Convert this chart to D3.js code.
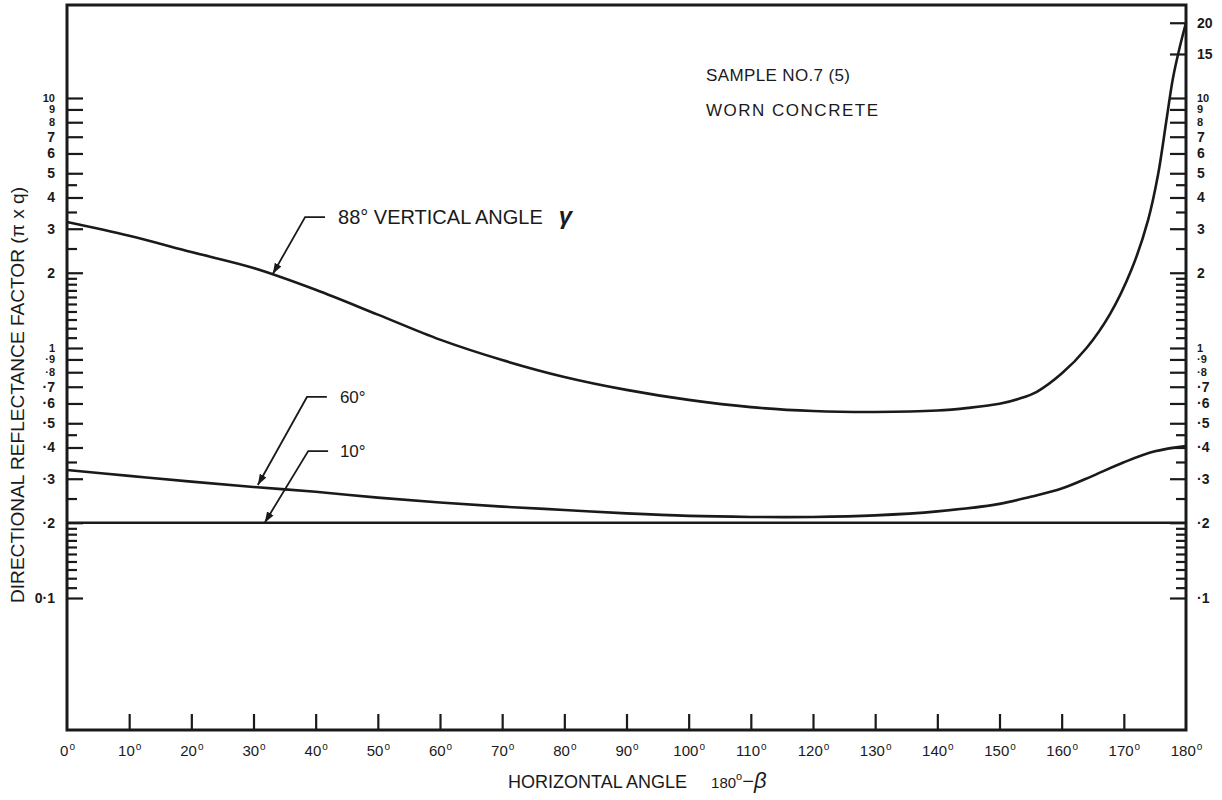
<!DOCTYPE html>
<html>
<head>
<meta charset="utf-8">
<script src="https://cdn.jsdelivr.net/npm/d3@7"></script>
<style>
  body { margin:0; background:#fff; }
  svg { display:block; font-family:"Liberation Sans", Arial, sans-serif; }
  .tick line { stroke:#1a1a1a; stroke-width:2.2; }
  .ytick text { fill:#1a1a1a; font-weight:bold; }
  .xtick text { fill:#1a1a1a; font-weight:normal; }
  .curve { fill:none; stroke:#1a1a1a; stroke-width:2.6; }
  .leader { fill:none; stroke:#1a1a1a; stroke-width:1.8; }
  .lbl { fill:#1a1a1a; }
</style>
</head>
<body>
<div id="chart"></div>
<script>
// horizontal angle (deg) and reflectance factor for each vertical angle
var angles88 = [0,10,20,30,40,50,60,70,80,90,100,110,120,130,140,145,150,153,156,160,164,167.8,171.2,173.9,175.5,176.9,177.9,179,180];
var values88 = [3.19,2.81,2.42,2.09,1.71,1.36,1.08,0.895,0.766,0.68,0.62,0.58,0.56,0.555,0.562,0.576,0.598,0.625,0.668,0.79,1.0,1.37,2.05,3.25,4.93,8.3,12.0,16.0,20.0];

var angles60 = [0,10,20,30,40,50,60,70,80,90,100,110,120,130,140,150,155,160,165,170,175,180];
var values60 = [0.325,0.308,0.292,0.278,0.266,0.252,0.241,0.232,0.225,0.218,0.213,0.211,0.211,0.214,0.222,0.238,0.254,0.274,0.308,0.349,0.386,0.405];

var angles10 = [0,180];
var values10 = [0.2,0.2];

var xTicks = d3.range(0,181,10);

var leftTickValues = [10,9,8,7,6,5,4,3,2,1,0.9,0.8,0.7,0.6,0.5,0.4,0.3,0.2,0.1];
var leftTickLabels = ["10","9","8","7","6","5","4","3","2","1","·9","·8","·7","·6","·5","·4","·3","·2","0·1"];
var rightTickValues = [20,15,10,9,8,7,6,5,4,3,2,1,0.9,0.8,0.7,0.6,0.5,0.4,0.3,0.2,0.1];
var rightTickLabels = ["20","15","10","9","8","7","6","5","4","3","2","1","·9","·8","·7","·6","·5","·4","·3","·2","·1"];
var minorTicks = [4.5,3.5,2.5,1.9,1.8,1.7,1.6,1.5,1.4,1.3,1.2,1.1,0.45,0.35,0.25,0.19,0.18,0.17,0.16,0.15,0.14,0.13,0.12,0.11];
var crowded = [10,9,8,1,0.9,0.8];

// annotations: arrow tip (angle,value), elbow (angle,value), end of horizontal, label angle
var notes = [
  {text:"88° VERTICAL ANGLE", tip:[33.1,1.977], elbow:[38.3,3.34], end:41.5, at:43.6, size:20, greek:"γ"},
  {text:"60°", tip:[30.7,0.283], elbow:[38.6,0.637], end:41.8, at:43.9, size:17},
  {text:"10°", tip:[31.8,0.2], elbow:[38.8,0.387], end:42.0, at:43.9, size:17}
];

var W = 1222, H = 800;
var m = {t:5, r:36, b:70, l:67};
var svg = d3.select('#chart').append('svg').attr('width',W).attr('height',H);

var x = d3.scaleLinear().domain([0,180]).range([m.l, W-m.r]);
var y = d3.scaleLog().domain([0.02965,23.55]).range([H-m.b, m.t]);

var fmtL = function(d){ return leftTickLabels[leftTickValues.indexOf(d)]; };
var fmtR = function(d){ return rightTickLabels[rightTickValues.indexOf(d)]; };

// minor ticks, both sides
svg.append('g').attr('transform','translate('+m.l+',0)')
  .call(d3.axisLeft(y).tickValues(minorTicks).tickSize(-10).tickFormat(''))
  .call(function(g){ g.select('.domain').remove(); });
svg.append('g').attr('transform','translate('+(W-m.r)+',0)')
  .call(d3.axisRight(y).tickValues(minorTicks).tickSize(-10).tickFormat(''))
  .call(function(g){ g.select('.domain').remove(); });

// labelled ticks
svg.append('g').attr('class','ytick').attr('transform','translate('+m.l+',0)')
  .call(d3.axisLeft(y).tickValues(leftTickValues).tickSize(-16).tickPadding(12).tickFormat(fmtL))
  .call(function(g){
    g.select('.domain').remove();
    g.selectAll('text').attr('font-size',function(d){ return crowded.indexOf(d)>=0?11:14; });
  });
svg.append('g').attr('class','ytick').attr('transform','translate('+(W-m.r)+',0)')
  .call(d3.axisRight(y).tickValues(rightTickValues).tickSize(-16).tickPadding(11).tickFormat(fmtR))
  .call(function(g){
    g.select('.domain').remove();
    g.selectAll('text').attr('font-size',function(d){ return crowded.indexOf(d)>=0?11:14; });
  });

svg.append('g').attr('class','xtick').attr('transform','translate(0,'+(H-m.b)+')')
  .call(d3.axisBottom(x).tickValues(xTicks).tickSize(-16).tickPadding(15).tickFormat(function(d){ return d; }))
  .call(function(g){
    g.select('.domain').remove();
    g.selectAll('.tick line').filter(function(d){ return d===0||d===180; }).remove();
    g.selectAll('text').attr('font-size',15)
      .append('tspan').attr('font-size',10).attr('dy','-0.6em').attr('dx','1').text('o');
  });

// frame
svg.append('rect')
  .attr('x',x(0)).attr('y',y(23.55))
  .attr('width',x(180)-x(0)).attr('height',y(0.02965)-y(23.55))
  .attr('fill','none').attr('stroke','#1a1a1a').attr('stroke-width',3);

// curves
var line = d3.line()
  .x(function(d){ return x(d[0]); })
  .y(function(d){ return y(d[1]); })
  .curve(d3.curveCatmullRom.alpha(0.5));

[[angles88,values88],[angles60,values60],[angles10,values10]].forEach(function(s){
  svg.append('path').attr('class','curve')
    .datum(s[0].map(function(a,i){ return [a,s[1][i]]; }))
    .attr('d',line);
});

// arrowheads
svg.append('defs').append('marker')
  .attr('id','arr').attr('viewBox','0 0 10 10').attr('refX',10).attr('refY',5)
  .attr('markerWidth',6).attr('markerHeight',6).attr('orient','auto')
  .append('path').attr('d','M0,1.5 L10,5 L0,8.5 Z').attr('fill','#1a1a1a');

notes.forEach(function(n){
  var ey = y(n.elbow[1]);
  svg.append('path').attr('class','leader')
    .attr('d','M'+x(n.end)+','+ey+' L'+x(n.elbow[0])+','+ey+' L'+x(n.tip[0])+','+y(n.tip[1]))
    .attr('marker-end','url(#arr)');
  var t = svg.append('text').attr('class','lbl')
    .attr('x',x(n.at)).attr('y',ey).attr('dy','0.36em')
    .attr('font-size',n.size).text(n.text);
  if(n.greek){
    t.append('tspan').attr('dx',16).attr('font-size',24).attr('font-style','italic').attr('font-weight','bold').text(n.greek);
  }
});

// title
svg.append('text').attr('class','lbl').attr('x',706).attr('y',81).attr('font-size',17).attr('textLength',144).text('SAMPLE NO.7  (5)');
svg.append('text').attr('class','lbl').attr('x',706).attr('y',116).attr('font-size',17).attr('textLength',172).text('WORN CONCRETE');

// axis titles
var xt = svg.append('text').attr('class','lbl').attr('x',508).attr('y',788).attr('font-size',18).text('HORIZONTAL ANGLE');
xt.append('tspan').attr('dx',24).attr('font-size',15).text('180');
xt.append('tspan').attr('dy',-8).attr('font-size',11).text('o');
xt.append('tspan').attr('dy',8).attr('font-size',20).text('−');
xt.append('tspan').attr('font-size',22).attr('font-style','italic').text('β');

svg.append('text').attr('class','lbl')
  .attr('transform','translate(24,395) rotate(-90)')
  .attr('text-anchor','middle').attr('font-size',18)
  .attr('textLength',416).attr('lengthAdjust','spacingAndGlyphs')
  .text('DIRECTIONAL REFLECTANCE FACTOR (π x q)');
</script>
</body>
</html>
